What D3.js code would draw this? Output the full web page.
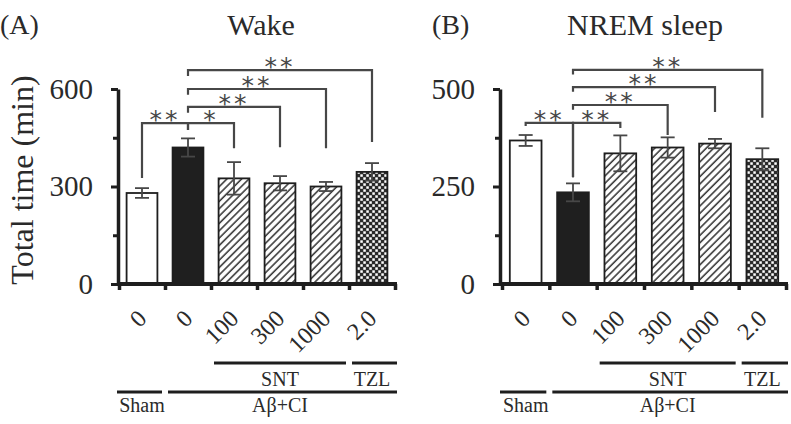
<!DOCTYPE html>
<html>
<head>
<meta charset="utf-8">
<script src="https://cdn.jsdelivr.net/npm/d3@7"></script>
<style>
  body { margin: 0; background: #fff; }
  svg { display: block; font-family: "Liberation Serif", "Times New Roman", serif; }
</style>
</head>
<body>
<div id="chart"></div>
<script>
// data
var categories = ["0", "0", "100", "300", "1000", "2.0"];
var wakeMean = [280, 420, 325, 310, 300, 345];
var wakeErr  = [15, 28, 50, 22, 14, 27];
var nremMean = [368, 235, 335, 350, 360, 320];
var nremErr  = [14, 23, 46, 26, 12, 28];
var wakeTicks = [0, 300, 600];
var nremTicks = [0, 250, 500];
var topGroups = [{label: "SNT", from: 2, to: 5}, {label: "TZL", from: 5, to: 6}];
var bottomGroups = [{label: "Sham", from: 0, to: 1}, {label: "A\u03b2+CI", from: 1, to: 6}];
var sigPairs = [[0, 1], [1, 2], [1, 3], [1, 4], [1, 5]];
var wakeSig = ["**", "*", "**", "**", "**"];
var nremSig = ["**", "**", "**", "**", "**"];

var W = 791, H = 424;
var serif = "Liberation Serif, DejaVu Serif, serif";
var svg = d3.select("#chart").append("svg")
    .attr("width", W)
    .attr("height", H);

var ink = "#1e1e1e", grey = "#474747";

// patterns
var defs = svg.append("defs");
var hatch = defs.append("pattern")
    .attr("id", "hatch")
    .attr("patternUnits", "userSpaceOnUse")
    .attr("width", 5.2).attr("height", 10)
    .attr("patternTransform", "rotate(45)");
hatch.append("rect").attr("width", 5.2).attr("height", 10).attr("fill", "#fff");
hatch.append("line")
    .attr("x1", 1).attr("x2", 1).attr("y1", 0).attr("y2", 10)
    .attr("stroke", "#3a3a3a").attr("stroke-width", 1.6);

var checker = defs.append("pattern")
    .attr("id", "checker")
    .attr("patternUnits", "userSpaceOnUse")
    .attr("width", 6).attr("height", 6);
checker.append("rect").attr("width", 6).attr("height", 6).attr("fill", "#2a2a2a");
checker.append("rect").attr("x", 0.3).attr("y", 0.3).attr("width", 2.5).attr("height", 2.5).attr("fill", "#fff");
checker.append("rect").attr("x", 3.3).attr("y", 3.3).attr("width", 2.5).attr("height", 2.5).attr("fill", "#fff");

var barFill = ["#fff", "#1f1f1f", "url(#hatch)", "url(#hatch)", "url(#hatch)", "url(#checker)"];

function drawPanel(cfg) {
  var n = categories.length;
  var g = svg.append("g").attr("font-family", serif);

  var x = d3.scaleBand()
      .domain(d3.range(n))
      .range([cfg.x0, cfg.x1])
      .paddingInner(0.33)
      .paddingOuter(0.165);
  var bw = x.bandwidth(), step = x.step();
  // band edges, used for axis ticks and group lines
  var xb = d3.scaleLinear()
      .domain([0, n])
      .range([x(0) + bw / 2 - step / 2, x(n - 1) + bw / 2 + step / 2]);
  var y = d3.scaleLinear().domain([0, cfg.ticks[2]]).range([284, 89]);
  var cx = function(i) { return x(i) + bw / 2; };

  // bars
  g.selectAll("rect.bar")
    .data(cfg.mean)
    .enter().append("rect")
      .attr("class", "bar")
      .attr("x", function(d, i) { return x(i); })
      .attr("y", function(d) { return y(d); })
      .attr("width", bw)
      .attr("height", function(d) { return y(0) - y(d); })
      .attr("fill", function(d, i) { return barFill[i]; })
      .attr("stroke", ink)
      .attr("stroke-width", 1.8);

  // error bars
  var eb = g.selectAll("g.err")
    .data(cfg.mean)
    .enter().append("g")
      .attr("class", "err")
      .attr("stroke", grey)
      .attr("stroke-width", 1.8);
  eb.append("line")
      .attr("x1", function(d, i) { return cx(i); })
      .attr("x2", function(d, i) { return cx(i); })
      .attr("y1", function(d, i) { return y(d - cfg.err[i]); })
      .attr("y2", function(d, i) { return y(d + cfg.err[i]); });
  eb.append("line")
      .attr("x1", function(d, i) { return cx(i) - 7; })
      .attr("x2", function(d, i) { return cx(i) + 7; })
      .attr("y1", function(d, i) { return y(d + cfg.err[i]); })
      .attr("y2", function(d, i) { return y(d + cfg.err[i]); });
  eb.append("line")
      .attr("x1", function(d, i) { return cx(i) - 7; })
      .attr("x2", function(d, i) { return cx(i) + 7; })
      .attr("y1", function(d, i) { return y(d - cfg.err[i]); })
      .attr("y2", function(d, i) { return y(d - cfg.err[i]); });

  // y axis, major and minor ticks
  var yAxis = g.append("g")
      .attr("transform", "translate(" + cfg.axisX + ",0)")
      .call(d3.axisLeft(y).tickValues(cfg.ticks).tickSize(7).tickSizeOuter(0).tickPadding(18));
  g.append("g")
      .attr("transform", "translate(" + cfg.axisX + ",0)")
      .call(d3.axisLeft(y).tickValues([cfg.ticks[2] / 4, cfg.ticks[2] * 3 / 4]).tickSize(5).tickFormat(""))
      .select(".domain").remove();
  g.selectAll(".tick line").attr("stroke", ink).attr("stroke-width", 3);
  yAxis.select(".domain").attr("stroke", ink).attr("stroke-width", 3.5);
  yAxis.attr("font-family", serif);
  yAxis.selectAll("text")
      .attr("font-size", 29)
      .attr("fill", "#2a2a2a");

  // x axis with ticks at band edges
  var xAxis = g.append("g")
      .attr("transform", "translate(0,284)")
      .call(d3.axisBottom(xb).tickValues(d3.range(n + 1)).tickSize(6).tickSizeOuter(0).tickFormat(""));
  xAxis.select(".domain")
      .attr("d", "M" + (cfg.axisX - 1) + ",0H" + (xb(n) + 2))
      .attr("stroke", ink).attr("stroke-width", 4);
  xAxis.selectAll(".tick line").attr("stroke", ink).attr("stroke-width", 3.5);

  // rotated dose labels
  g.selectAll("text.cat")
    .data(categories)
    .enter().append("text")
      .attr("class", "cat")
      .attr("text-anchor", "end")
      .attr("font-size", 24)
      .attr("fill", "#2a2a2a")
      .attr("transform", function(d, i) {
        return "translate(" + (cx(i) + 6) + ",320) rotate(-45)";
      })
      .text(function(d) { return d; });

  // group lines
  function groupRow(groups, ly, ty) {
    var rows = g.selectAll(null).data(groups).enter().append("g");
    rows.append("line")
        .attr("x1", function(d) { return xb(d.from) + (d.from === 0 ? -2 : 3); })
        .attr("x2", function(d) { return xb(d.to) - (d.to === n ? -2 : 3); })
        .attr("y1", ly).attr("y2", ly)
        .attr("stroke", ink).attr("stroke-width", 3);
    rows.append("text")
        .attr("x", function(d) { return (xb(d.from) + xb(d.to)) / 2; })
        .attr("y", ty)
        .attr("text-anchor", "middle")
        .attr("font-family", serif)
        .attr("font-size", 20)
        .attr("fill", "#2a2a2a")
        .text(function(d) { return d.label; });
  }
  groupRow(topGroups, 363, 386);
  groupRow(bottomGroups, 392, 412);

  // significance brackets
  sigPairs.forEach(function(p, k) {
    var b = cfg.brackets[k];
    g.append("path")
        .attr("d", "M" + cx(p[0]) + "," + y(b[1]) + "V" + y(b[0]) +
                   "H" + cx(p[1]) + "V" + y(b[2]))
        .attr("fill", "none")
        .attr("stroke", grey)
        .attr("stroke-width", 2.2);
    g.append("text")
        .attr("x", (cx(p[0]) + cx(p[1])) / 2)
        .attr("y", y(b[0]) + 5)
        .attr("text-anchor", "middle")
        .attr("font-family", "DejaVu Sans")
        .attr("font-size", 25)
        .attr("letter-spacing", 3)
        .attr("fill", grey)
        .text(cfg.sig[k]);
  });

  // titles
  g.append("text")
      .attr("x", cfg.tagX).attr("y", 34)
      .attr("font-size", 28)
      .attr("fill", "#2a2a2a")
      .text(cfg.tag);
  g.append("text")
      .attr("x", cfg.titleX).attr("y", 35)
      .attr("text-anchor", "middle")
      .attr("font-size", 30)
      .attr("fill", "#2a2a2a")
      .text(cfg.title);
}

drawPanel({
  x0: 119, x1: 395, axisX: 118,
  mean: wakeMean, err: wakeErr, ticks: wakeTicks, sig: wakeSig,
  brackets: [[495, 326, 474], [495, 474, 418], [545, 527, 421], [600, 582, 418], [658, 640, 437]],
  tag: "(A)", tagX: 0, title: "Wake", titleX: 261
});
drawPanel({
  x0: 502, x1: 786, axisX: 500,
  mean: nremMean, err: nremErr, ticks: nremTicks, sig: nremSig,
  brackets: [[413, 405, 274], [413, 274, 400], [459, 447, 382], [505, 493, 441], [549, 537, 426]],
  tag: "(B)", tagX: 432, title: "NREM sleep", titleX: 645
});

// y axis title
svg.append("text")
    .attr("transform", "translate(33,180) rotate(-90)")
    .attr("text-anchor", "middle")
    .attr("font-family", serif)
    .attr("font-size", 32)
    .attr("fill", "#2a2a2a")
    .text("Total time (min)");
</script>
</body>
</html>
